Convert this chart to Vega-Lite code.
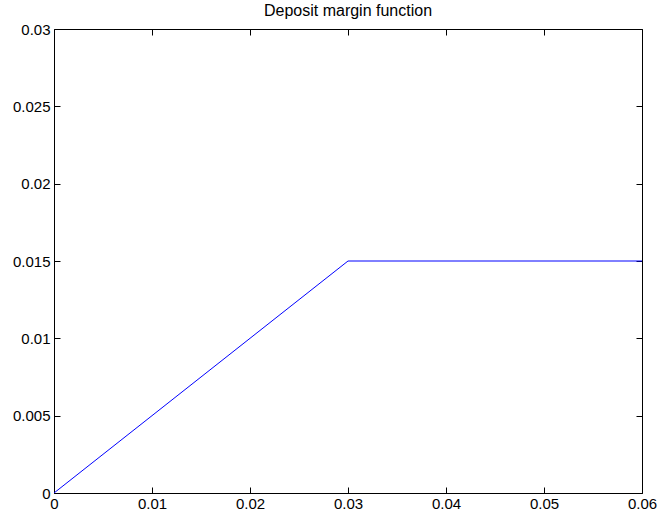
{
  "$schema": "https://vega.github.io/schema/vega-lite/v6.json",
  "autosize": "none",
  "width": 588,
  "height": 464,
  "padding": {"left": 54, "top": 29, "right": 17, "bottom": 27},
  "background": "white",
  "title": {"text": "Deposit margin function", "font": "Liberation Sans", "fontSize": 16, "fontWeight": "normal", "color": "black", "offset": 9, "baseline": "alphabetic", "frame": "group", "dy": 19},
  "config": {
    "view": {"stroke": "black", "strokeWidth": 1},
    "axis": {
      "domain": false, "grid": false, "tickSize": -6, "tickColor": "black", "tickWidth": 1,
      "labelFont": "Liberation Sans", "labelFontSize": 15, "labelColor": "black",
      "title": null
    }
  },
  "data": {"values": [
    {"x": 0, "y": 0},
    {"x": 0.03, "y": 0.015},
    {"x": 0.06, "y": 0.015}
  ]},
  "layer": [
    {
      "mark": {"type": "line", "color": "#0000ff", "strokeWidth": 1, "clip": true},
      "encoding": {
        "x": {"field": "x", "type": "quantitative", "scale": {"domain": [0, 0.06], "nice": false, "zero": false},
          "axis": {"orient": "bottom", "values": [0, 0.01, 0.02, 0.03, 0.04, 0.05, 0.06], "format": "~g", "labelPadding": 9, "labelFlush": false, "labelFontSize": 15}},
        "y": {"field": "y", "type": "quantitative", "scale": {"domain": [0, 0.03], "nice": false, "zero": false},
          "axis": {"orient": "left", "values": [0, 0.005, 0.01, 0.015, 0.02, 0.025, 0.03], "format": "~g", "labelPadding": 10, "labelFlush": false, "labelFontSize": 15}}
      }
    },
    {
      "mark": {"type": "line", "opacity": 0},
      "encoding": {
        "x": {"field": "x", "type": "quantitative",
          "axis": {"orient": "top", "values": [0, 0.01, 0.02, 0.03, 0.04, 0.05, 0.06], "labels": false, "labelPadding": 0, "minExtent": 0, "maxExtent": 0}},
        "y": {"field": "y", "type": "quantitative",
          "axis": {"orient": "right", "values": [0, 0.005, 0.01, 0.015, 0.02, 0.025, 0.03], "labels": false, "labelPadding": 0, "minExtent": 0, "maxExtent": 0}}
      }
    }
  ],
  "resolve": {"axis": {"x": "independent", "y": "independent"}}
}
